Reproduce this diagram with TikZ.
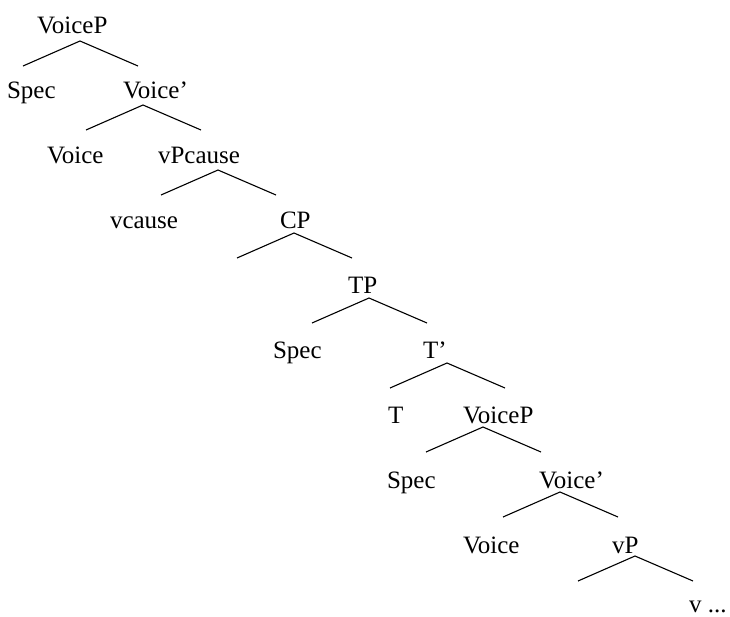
\documentclass[tikz,border=0pt]{standalone}
\usepackage{fontspec}
\setmainfont{Liberation Serif}
\begin{document}
\begin{tikzpicture}[x=1pt,y=-1pt,
  lbl/.style={anchor=base west,inner sep=0pt,outer sep=0pt,font=\fontsize{25}{30}\selectfont},
  branch/.style={line width=1.1pt,line join=miter}]
\useasboundingbox (0,0) rectangle (730,616);
% labels
\node[lbl] (voicep1) at (37,33) {VoiceP};
\node[lbl] (spec1) at (7,98) {Spec};
\node[lbl] (voicebar1) at (123,98) {Voice’};
\node[lbl] (voice1) at (47,163) {Voice};
\node[lbl] (vpcause) at (158,163) {vPcause};
\node[lbl] (vcause) at (110,228) {vcause};
\node[lbl] (cp) at (280,228) {CP};
\node[lbl] (tp) at (348,293) {TP};
\node[lbl] (spec2) at (273,358) {Spec};
\node[lbl] (tbar) at (423,358) {T’};
\node[lbl] (t) at (388,423) {T};
\node[lbl] (voicep2) at (463,423) {VoiceP};
\node[lbl] (spec3) at (387,488) {Spec};
\node[lbl] (voicebar2) at (539,488) {Voice’};
\node[lbl] (voice2) at (463,553) {Voice};
\node[lbl] (vp) at (612,553) {vP};
\node[lbl] (vdots) at (689,612) {v ...};
% branch points
\foreach \n/\x/\y in {a/80/41, b/143/105, c/218/170, d/294/233, e/369/298, f/447/363, g/483/427, h/560/492, i/635/556}{
  \coordinate (\n) at (\x,\y);
  \coordinate (\n l) at (\x-57,\y+25);
  \coordinate (\n r) at (\x+58,\y+25);
}
\foreach \n in {a,b,c,d,e,f,g,h,i}{
  \draw[branch] (\n l) -- (\n) -- (\n r);
}
\end{tikzpicture}
\end{document}
